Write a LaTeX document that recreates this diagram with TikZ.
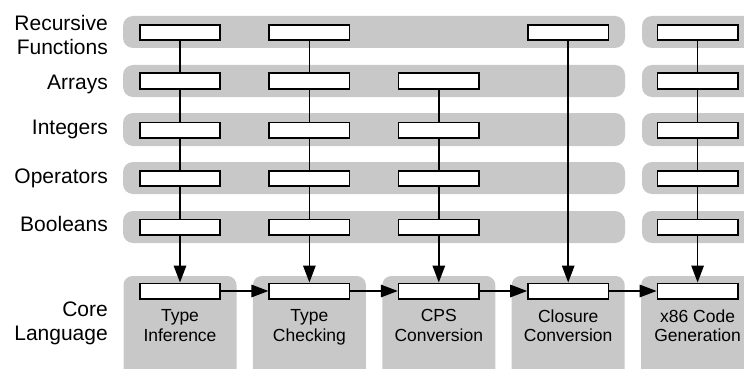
\documentclass[tikz,border=0pt]{standalone}
\usepackage{fontspec}
\setmainfont{Liberation Sans}
\usepackage{tikz}
\usetikzlibrary{arrows.meta}
\definecolor{bandgray}{RGB}{200,200,200}

\begin{document}
\begin{tikzpicture}[x=1pt,y=-1pt,
		pass/.style={draw,line width=1.6pt,fill=white,minimum width=80.4pt,minimum height=15.4pt,inner sep=0pt},
		band/.style={fill=bandgray,rounded corners=10pt},
		link/.style={line width=1.5pt},
		flow/.style={line width=1.5pt,-{Triangle[length=17pt,width=12.5pt]}},
		lab/.style={font=\fontsize{21}{24}\selectfont,align=right,inner sep=0pt},
		passlabel/.style={font=\fontsize{17.5}{19.5}\selectfont,align=center,inner sep=0pt}]
			\useasboundingbox (0,0) rectangle (744,369);
			\clip (0,0) rectangle (744,369);
			% feature bands
			\fill[band] (123,16) rectangle (625,48);
			\fill[band] (123,65) rectangle (625,97);
			\fill[band] (123,113) rectangle (625,146);
			\fill[band] (123,162) rectangle (625,194);
			\fill[band] (123,211) rectangle (625,243);
			\fill[band] (642,16) rectangle (780,48);
			\fill[band] (642,65) rectangle (780,97);
			\fill[band] (642,113) rectangle (780,146);
			\fill[band] (642,162) rectangle (780,194);
			\fill[band] (642,211) rectangle (780,243);
			% core language
			\fill[band,rounded corners=9pt] (123.5,276) rectangle (236.5,400);
			\fill[band,rounded corners=9pt] (252.9,276) rectangle (365.9,400);
			\fill[band,rounded corners=9pt] (382.3,276) rectangle (495.3,400);
			\fill[band,rounded corners=9pt] (511.7,276) rectangle (624.7,400);
			\fill[band,rounded corners=9pt] (641.1,276) rectangle (754.1,400);
			% row labels
			\node[lab,anchor=north east] (rec) at (108,15) {Recursive\\Functions};
			\node[lab,anchor=base east] (arr) at (108,89) {Arrays};
			\node[lab,anchor=base east] (int) at (108,134.5) {Integers};
			\node[lab,anchor=base east] (op) at (108,183) {Operators};
			\node[lab,anchor=base east] (bool) at (108,231.5) {Booleans};
			\node[lab,anchor=north east] (core) at (108,301.5) {Core\\Language};
			% type inference
			\node[pass] (inf1) at (180,32.5) {};
			\node[pass] (inf2) at (180,81) {};
			\node[pass] (inf3) at (180,130) {};
			\node[pass] (inf4) at (180,178.5) {};
			\node[pass] (inf5) at (180,227) {};
			\node[pass] (inf) at (180,291) {};
			\node[passlabel,anchor=north] (inftext) at (180,309.5) {Type\\Inference};
			% type checking
			\node[pass] (chk1) at (309.4,32.5) {};
			\node[pass] (chk2) at (309.4,81) {};
			\node[pass] (chk3) at (309.4,130) {};
			\node[pass] (chk4) at (309.4,178.5) {};
			\node[pass] (chk5) at (309.4,227) {};
			\node[pass] (chk) at (309.4,291) {};
			\node[passlabel,anchor=north] (chktext) at (309.4,309.5) {Type\\Checking};
			% cps conversion
			\node[pass] (cps2) at (438.8,81) {};
			\node[pass] (cps3) at (438.8,130) {};
			\node[pass] (cps4) at (438.8,178.5) {};
			\node[pass] (cps5) at (438.8,227) {};
			\node[pass] (cps) at (438.8,291) {};
			\node[passlabel,anchor=north] (cpstext) at (438.8,309.5) {CPS\\Conversion};
			% closure conversion
			\node[pass] (clo1) at (568.2,32.5) {};
			\node[pass] (clo) at (568.2,291) {};
			\node[passlabel,anchor=north] (clotext) at (568.2,309.5) {Closure\\Conversion};
			% code generation
			\node[pass] (gen1) at (697.6,32.5) {};
			\node[pass] (gen2) at (697.6,81) {};
			\node[pass] (gen3) at (697.6,130) {};
			\node[pass] (gen4) at (697.6,178.5) {};
			\node[pass] (gen5) at (697.6,227) {};
			\node[pass] (gen) at (697.6,291) {};
			\node[passlabel,anchor=north] (gentext) at (697.6,309.5) {x86 Code\\Generation};
			% links
			\draw[link] (inf1) -- (inf2) -- (inf3) -- (inf4) -- (inf5);
			\draw[link] (chk1) -- (chk2) -- (chk3) -- (chk4) -- (chk5);
			\draw[link] (cps2) -- (cps3) -- (cps4) -- (cps5);
			\draw[link] (gen1) -- (gen2) -- (gen3) -- (gen4) -- (gen5);
			\draw[flow] (inf5) -- (inf);
			\draw[flow] (chk5) -- (chk);
			\draw[flow] (cps5) -- (cps);
			\draw[flow] (clo1) -- (clo);
			\draw[flow] (gen5) -- (gen);
			\draw[flow] (inf) -- (chk);
			\draw[flow] (chk) -- (cps);
			\draw[flow] (cps) -- (clo);
			\draw[flow] (clo) -- (gen);
		\end{tikzpicture}
\end{document}
